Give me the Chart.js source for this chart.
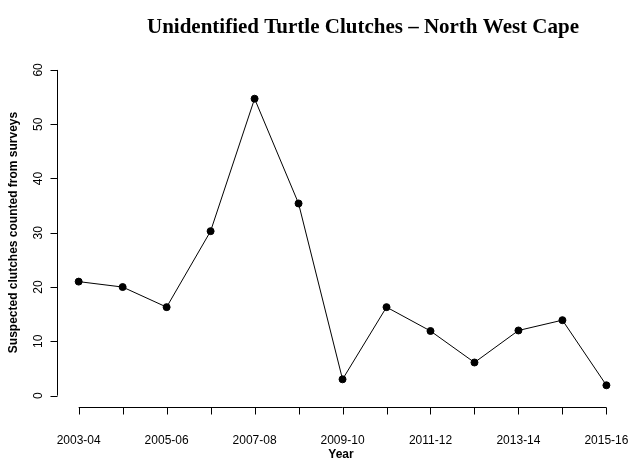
<!DOCTYPE html>
<html><head><meta charset="utf-8">
<script src="https://cdn.jsdelivr.net/npm/chart.js@4"></script>
<style>html,body{margin:0;background:#fff}#w{width:636px;height:462px}</style>
</head><body><div id="w"><canvas id="c"></canvas></div>
<script>
const categories=["2003-04","2004-05","2005-06","2006-07","2007-08","2008-09","2009-10","2010-11","2011-12","2012-13","2013-14","2014-15","2015-16"];
const clutches=[21,20,16.3,30.3,54.7,35.4,3,16.3,11.9,6.1,12,13.9,1.9];
const yTicks=[0,10,20,30,40,50,60];
const xLabelIdx=[0,2,4,6,8,10,12];
const title="Unidentified Turtle Clutches \u2013 North West Cape";
const yTitle="Suspected clutches counted from surveys";
const xTitle="Year";

const axesPlugin={id:'ax',afterDraw(ch){
  const c=ch.ctx,x=ch.scales.x,y=ch.scales.y,a=ch.chartArea;
  c.save();c.strokeStyle='#000';c.fillStyle='#000';c.lineWidth=1;
  const ax=a.left-0.5;
  c.beginPath();c.moveTo(ax,y.getPixelForValue(0));c.lineTo(ax,y.getPixelForValue(60));
  yTicks.forEach(t=>{const p=Math.round(y.getPixelForValue(t))+0.5;c.moveTo(ax,p);c.lineTo(ax-7,p);});
  c.stroke();
  c.font='12px "Liberation Sans", Arial';c.textAlign='center';c.textBaseline='middle';
  yTicks.forEach(t=>{c.save();c.translate(ax-19,y.getPixelForValue(t));c.rotate(-Math.PI/2);c.fillText(String(t),0,0);c.restore();});
  const ay=a.bottom+0.5;
  c.beginPath();c.moveTo(x.getPixelForValue(0),ay);c.lineTo(x.getPixelForValue(12),ay);
  categories.forEach((_,i)=>{const p=Math.round(x.getPixelForValue(i))+0.5;c.moveTo(p,ay);c.lineTo(p,ay+7);});
  c.stroke();
  xLabelIdx.forEach(i=>c.fillText(categories[i],x.getPixelForValue(i),ay+33));
  c.font='bold 12px "Liberation Sans", Arial';
  c.fillText(xTitle,(a.left+a.right)/2,ay+47);
  c.save();c.translate(14,(a.top+a.bottom)/2);c.rotate(-Math.PI/2);c.fillText(yTitle,0,0);c.restore();
  c.font='bold 21px "Liberation Serif", serif';
  c.fillText(title,363,28);
  c.restore();
}};

new Chart(document.getElementById('c'),{
  type:'line',
  data:{datasets:[{data:clutches.map((v,i)=>({x:i,y:v})),borderColor:'#000',borderWidth:1,
    pointRadius:3.5,pointBackgroundColor:'#000',pointBorderColor:'#000',tension:0}]},
  options:{responsive:true,maintainAspectRatio:false,animation:false,
    layout:{padding:{left:58,right:12,top:58,bottom:55}},
    plugins:{legend:{display:false},tooltip:{enabled:false}},
    scales:{x:{type:'linear',min:-0.47,max:12.4,display:false},
            y:{min:-2.1,max:62.2,display:false}}},
  plugins:[axesPlugin]
});
</script></body></html>
